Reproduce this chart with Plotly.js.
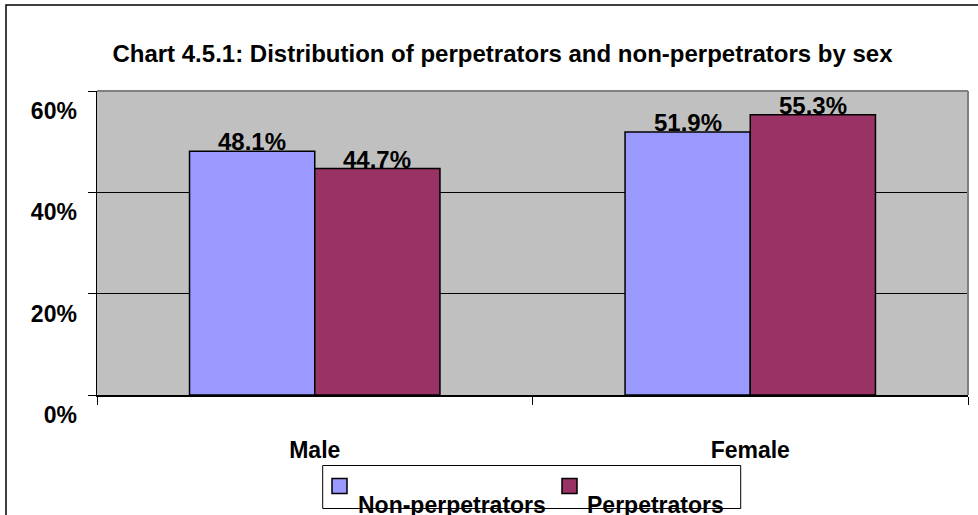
<!DOCTYPE html>
<html>
<head>
<meta charset="utf-8">
<script src="https://cdn.plot.ly/plotly-3.0.1.min.js"></script>
<style>html,body{margin:0;padding:0;background:#fff;}#chart{width:978px;height:515px;}</style>
</head>
<body>
<div id="chart"></div>
<script>
// ---- data ----
const categories = ['Male', 'Female'];
const seriesNames = ['Non-perpetrators', 'Perpetrators'];
const nonPerpetrators = [0.481, 0.519];
const perpetrators = [0.447, 0.553];
const yTickVals = [0, 0.2, 0.4, 0.6];
const yTickText = ['0%', '20%', '40%', '60%'];
const seriesColors = ['#9999FF', '#993366'];
const titleText = 'Chart 4.5.1: Distribution of perpetrators and non-perpetrators by sex';

// ---- layout geometry (pixels) ----
const W = 978, H = 515;
const PL = 97, PR = 968, PT = 91, PB = 395;
const px = x => (x - PL) / (PR - PL);
const py = y => (PB - y) / (PB - PT);
const FONT = '"Liberation Sans", Arial, sans-serif';
const FS = 23;

const seriesValues = [nonPerpetrators, perpetrators];
const traces = seriesValues.map((vals, i) => ({
  type: 'bar',
  name: seriesNames[i],
  x: categories,
  y: vals,
  marker: {color: seriesColors[i], line: {color: '#000', width: 1.5}},
  hoverinfo: 'skip',
  showlegend: false
}));

// bar value labels
const barPx = 125;
const annotations = [];
seriesValues.forEach((vals, i) => {
  vals.forEach((v, j) => {
    annotations.push({
      x: categories[j], y: v, xref: 'x', yref: 'y',
      xshift: (i === 0 ? -1 : 1) * barPx / 2,
      yshift: -6,
      text: (v * 100).toFixed(1) + '%',
      showarrow: false, xanchor: 'center', yanchor: 'bottom',
      font: {family: FONT, size: 24, color: '#000', weight: 'bold'}
    });
  });
});

// manual legend
const legendItems = [{mx: 332, tx: 356}, {mx: 562, tx: 585}];
const shapes = [
  // outer chart border (left & top)
  {type: 'rect', xref: 'paper', yref: 'paper', x0: px(6), x1: px(1000), y0: py(600), y1: py(5),
   line: {color: '#000', width: 1.5}, fillcolor: 'rgba(0,0,0,0)', layer: 'below'},
  // plot area top & right gray border
  {type: 'line', xref: 'paper', yref: 'paper', x0: 0, x1: 1, y0: 1, y1: 1, line: {color: '#808080', width: 2}, layer: 'above'},
  {type: 'line', xref: 'paper', yref: 'paper', x0: 1, x1: 1, y0: 0, y1: 1, line: {color: '#808080', width: 2}, layer: 'above'},
  // legend box
  {type: 'rect', xref: 'paper', yref: 'paper', x0: px(322.7), x1: px(740.7), y0: py(508.5), y1: py(465.5),
   line: {color: '#000', width: 1}, fillcolor: '#fff', layer: 'above'}
];
legendItems.forEach((it, i) => {
  shapes.push({type: 'rect', xref: 'paper', yref: 'paper', x0: px(it.mx), x1: px(it.mx + 15), y0: py(493.5), y1: py(478.5),
    line: {color: '#000', width: 1.5}, fillcolor: seriesColors[i], layer: 'above'});
  annotations.push({xref: 'paper', yref: 'paper', x: px(it.tx), y: py(505), xanchor: 'left', yanchor: 'middle',
    text: seriesNames[i], showarrow: false, font: {family: FONT, size: FS, color: '#000', weight: 'bold'}});
});

const layout = {
  width: W, height: H,
  margin: {l: PL, r: W - PR, t: PT, b: H - PB, pad: 0},
  paper_bgcolor: '#fff',
  plot_bgcolor: '#C0C0C0',
  font: {family: FONT, color: '#000'},
  title: {
    text: titleText,
    font: {family: FONT, size: 24, color: '#000', weight: 'bold'},
    xref: 'paper', x: px(502.5), xanchor: 'center',
    yref: 'container', y: 1 - 54 / H, yanchor: 'middle'
  },
  barmode: 'group',
  bargap: 0.425,
  bargroupgap: 0,
  xaxis: {
    type: 'category',
    showgrid: false,
    showline: true, linecolor: '#000', linewidth: 2,
    ticks: 'outside', tickson: 'boundaries', ticklen: 8, tickcolor: '#000', tickwidth: 1,
    ticklabelstandoff: 33,
    tickfont: {family: FONT, size: FS, color: '#000', weight: 'bold'},
    fixedrange: true
  },
  yaxis: {
    range: [0, 0.6],
    tickvals: yTickVals, ticktext: yTickText,
    showgrid: true, gridcolor: '#000', gridwidth: 1,
    zeroline: false,
    showline: true, linecolor: '#000', linewidth: 1.5,
    ticks: 'outside', ticklen: 8, tickcolor: '#000', tickwidth: 1,
    ticklabelshift: 20,
    ticklabelstandoff: 6,
    tickfont: {family: FONT, size: FS, color: '#000', weight: 'bold'},
    fixedrange: true
  },
  annotations: annotations,
  shapes: shapes,
  showlegend: false
};

Plotly.newPlot('chart', traces, layout, {staticPlot: true, displayModeBar: false});
</script>
</body>
</html>
